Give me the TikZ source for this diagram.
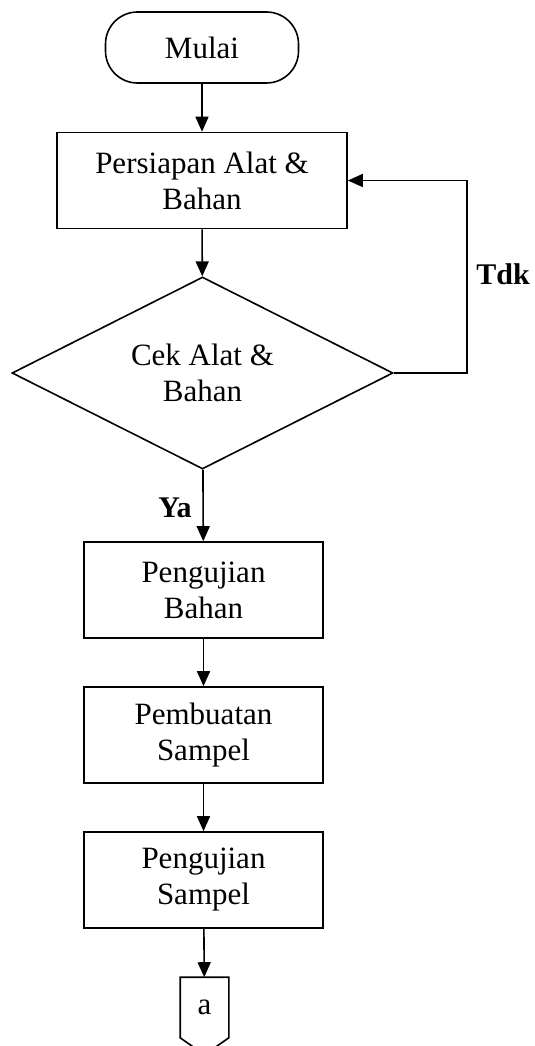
\documentclass[tikz,border=0pt]{standalone}
\usepackage{fontspec}
\setmainfont{Liberation Serif}
\usetikzlibrary{positioning, arrows.meta, shapes.geometric}

\begin{document}
\begin{tikzpicture}[x=1pt, y=-1pt, line width=1.6pt,
	every node/.style={draw, align=center, inner sep=0pt, font=\fontsize{31}{36}\selectfont},
	proses/.style={minimum width=239pt, minimum height=96pt},
	keterangan/.style={draw=none, font=\fontsize{30}{36}\selectfont\bfseries},
	panah/.style={-{Triangle[length=15pt, width=13pt]}}]
\useasboundingbox (0,0) rectangle (535,1046);
\node[rounded corners=32pt, minimum width=193pt, minimum height=71pt] (mulai) at (202,47.5) {Mulai};
\node[proses, minimum width=290pt] (siap) at (202,180.5) {Persiapan Alat \&\\Bahan};
\node[diamond, aspect=2, minimum width=381pt, minimum height=192pt] (cek) at (202.5,373) {Cek Alat \&\\Bahan};
\foreach \n/\y/\txt in {ujibahan/590/Pengujian\\Bahan, buat/735/Pembuatan\\Sampel, ujisampel/880/Pengujian\\Sampel}
	\node[proses] (\n) at (203.5,\y) {\txt};
% konektor ke halaman berikut
\node[draw=none, minimum width=47pt, minimum height=59pt] (a) at (204.5,1007.5) {a};
\draw (a.south west) -- (a.north west) -- (a.north east) -- (a.south east) -- ([yshift=-17pt]a.south) -- cycle;

\draw[panah] (mulai) -- (siap);
\draw[panah] (siap) -- (cek);
\draw[panah] (cek) -- (ujibahan);
\draw[panah] (ujibahan) -- (buat);
\draw[panah] (buat) -- (ujisampel);
\draw[panah] (ujisampel) -- (a);
\draw[panah] (cek.east) -- ++(73,0) |- (siap.east);
\node[keterangan] (ya) at (175,508) {Ya};
\node[keterangan] (tdk) at (503,274) {Tdk};
\end{tikzpicture}
\end{document}
